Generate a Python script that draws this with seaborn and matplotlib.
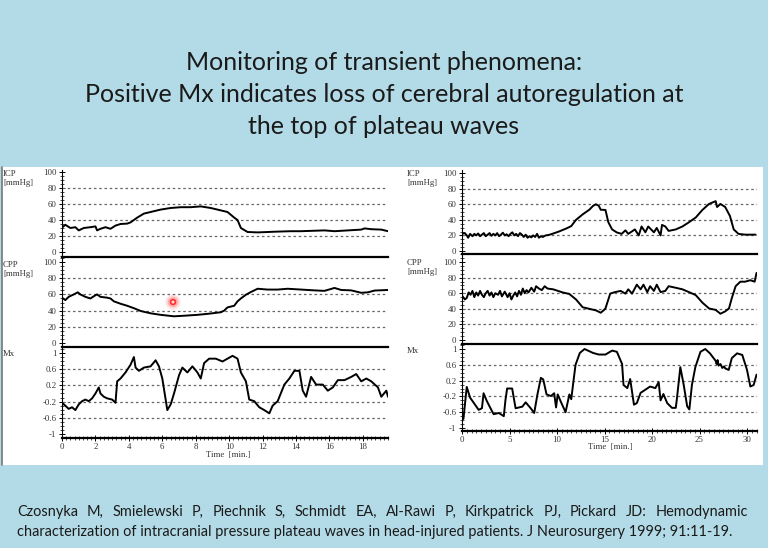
import matplotlib
matplotlib.use("Agg")
import matplotlib.pyplot as plt
from matplotlib.patches import Rectangle
from matplotlib.ticker import MultipleLocator
import seaborn as sns
import pandas as pd

# ---------------- data ----------------
# Left recording (time in minutes)
left_icp_t = [0.0, 0.2, 0.5, 0.8, 1.0, 1.3, 1.7, 2.0, 2.1, 2.3, 2.6, 2.9, 3.2, 3.5, 3.9, 4.1, 4.5, 4.9,
              5.3, 5.9, 6.5, 7.1, 7.7, 8.3, 8.9, 9.3, 9.9, 10.3, 10.5, 10.7, 11.1, 11.7, 12.3, 12.9,
              13.7, 14.3, 15.7, 16.3, 17.1, 17.9, 18.1, 18.5, 19.1, 19.5]
left_icp_v = [30.5, 34, 30, 31, 27, 30, 31, 32, 27, 29, 31, 29, 33, 35, 35.5, 37, 43, 48,
              50, 53, 55, 56, 56, 57, 55, 53, 50, 43, 40, 30, 25, 24.5, 25, 25.5,
              26, 26, 27, 26, 27, 28, 29.5, 28.5, 28, 26]

left_cpp_t = [0.0, 0.2, 0.4, 0.6, 0.8, 0.94, 1.1, 1.4, 1.7, 2.0, 2.1, 2.3, 2.7, 2.9, 3.1, 3.5, 3.9,
              4.3, 4.7, 5.3, 5.9, 6.7, 7.3, 8.1, 8.7, 9.5, 9.7, 9.9, 10.3, 10.5, 10.7, 11.0, 11.3,
              11.7, 12.3, 12.9, 13.5, 14.3, 15.1, 15.7, 16.3, 16.7, 17.3, 17.9, 18.3, 18.7, 19.5]
left_cpp_v = [56, 53, 57, 59, 61, 62.6, 60, 57, 55, 59, 60, 57, 56, 55, 51.5, 48.5, 46,
              43, 39.6, 36.7, 34.8, 33, 33.7, 34.8, 36, 38, 40, 44, 46, 51.5, 55, 59.6, 63,
              67, 66, 66, 67, 66, 65, 64.4, 68, 65.5, 65, 62, 62.6, 64.8, 65.5]

left_mx_t = [0.0, 0.2, 0.4, 0.6, 0.8, 1.0, 1.2, 1.4, 1.6, 1.8, 2.0, 2.2, 2.3, 2.5, 2.7, 3.0, 3.2,
             3.3, 3.5, 3.8, 4.1, 4.3, 4.4, 4.6, 4.9, 5.3, 5.6, 5.8, 6.0, 6.2, 6.3, 6.5, 6.7, 7.0,
             7.2, 7.5, 7.8, 8.1, 8.3, 8.5, 8.8, 9.2, 9.6, 9.9, 10.2, 10.5, 10.7, 11.0, 11.2, 11.5,
             11.8, 12.1, 12.4, 12.6, 12.9, 13.3, 13.6, 13.9, 14.2, 14.4, 14.6, 14.9, 15.2, 15.6,
             15.9, 16.2, 16.5, 16.9, 17.3, 17.6, 17.9, 18.2, 18.5, 18.9, 19.1, 19.4, 19.5]
left_mx_v = [-0.23, -0.30, -0.38, -0.34, -0.41, -0.27, -0.19, -0.15, -0.19, -0.12, 0.0, 0.15, 0.0,
             -0.08, -0.12, -0.15, -0.23, 0.3, 0.37, 0.52, 0.71, 0.9, 0.64, 0.56, 0.64, 0.67, 0.82,
             0.67, 0.37, -0.15, -0.41, -0.27, 0.0, 0.45, 0.64, 0.52, 0.67, 0.52, 0.37, 0.75, 0.86,
             0.86, 0.79, 0.86, 0.93, 0.86, 0.52, 0.3, -0.15, -0.19, -0.34, -0.41, -0.49, -0.30,
             -0.19, 0.22, 0.37, 0.56, 0.56, 0.07, -0.08, 0.41, 0.22, 0.22, 0.07, 0.15, 0.33, 0.33,
             0.41, 0.48, 0.30, 0.37, 0.30, 0.15, -0.08, 0.07, -0.08]

# Right recording
right_icp_t = [0.0, 0.3, 0.5, 0.65, 0.85, 1.1, 1.3, 1.5, 1.7, 1.9, 2.1, 2.3, 2.5, 2.7, 2.9, 3.1,
               3.3, 3.5, 3.7, 3.9, 4.1, 4.3, 4.5, 4.7, 4.9, 5.1, 5.3, 5.5, 5.7, 5.9, 6.1, 6.3,
               6.5, 6.7, 6.9, 7.1, 7.3, 7.5, 7.7, 7.9, 8.1, 8.3, 8.5, 8.8, 9.1, 9.5, 10.2, 11.0,
               11.5, 12.0, 12.7, 13.4, 13.8, 14.1, 14.4, 14.6, 15.1, 15.4, 15.8, 16.3, 16.8,
               17.2, 17.5, 18.2, 18.6, 18.9, 19.3, 19.6, 20.2, 20.5, 20.9, 21.05, 21.4, 21.75,
               22.5, 23.2, 23.9, 24.6, 25.3, 26.0, 26.7, 26.85, 27.2, 27.7, 28.2, 28.6, 29.1,
               29.8, 30.9]
right_icp_v = [22, 23, 20, 17, 22, 19, 22, 20, 22.5, 19, 21, 23, 19, 21, 23, 19.5,
               22, 20, 23, 19, 21, 23.5, 20, 21.5, 19, 22, 24, 20, 22, 19, 23, 21,
               18, 21, 17, 19, 17.5, 20, 18, 22, 17, 19, 18, 20, 20.5, 22, 25, 29,
               32, 40, 47, 53, 58, 60, 58, 53, 52.7, 37, 27.7, 23.8, 22,
               26.5, 22, 27.7, 20, 31.5, 24, 31.5, 24, 29.6, 20, 33.5, 31.5, 25.8,
               27.7, 31.5, 37, 43, 52.7, 60.4, 64, 56.5, 60.4, 56.5, 45, 27.7, 22,
               21, 21]

right_cpp_t = [0.0, 0.3, 0.5, 0.7, 0.9, 1.1, 1.3, 1.5, 1.7, 1.9, 2.1, 2.3, 2.5, 2.7, 2.9, 3.1,
               3.3, 3.5, 3.8, 4.0, 4.2, 4.5, 4.8, 5.0, 5.2, 5.4, 5.6, 5.8, 6.0, 6.2, 6.4, 6.6,
               6.8, 7.0, 7.3, 7.6, 7.8, 8.1, 8.4, 8.7, 9.0, 9.6, 10.6, 11.3, 12.0, 12.7, 13.4,
               14.1, 14.6, 14.9, 15.1, 15.6, 16.1, 16.7, 17.2, 17.5, 17.9, 18.4, 18.8, 19.1,
               19.5, 19.8, 20.2, 20.5, 20.9, 21.4, 21.75, 22.5, 23.2, 23.9, 24.6, 25.3, 26.0,
               26.7, 27.2, 27.7, 28.1, 28.4, 28.8, 29.3, 29.8, 30.35, 30.8, 31.0]
right_cpp_v = [57, 52, 54, 61, 58, 63, 55, 61, 57, 63, 58, 55, 60, 63, 57, 61,
               55, 60, 58, 63, 56, 62, 55, 60, 52, 57, 61, 56, 63, 58, 66, 60,
               64, 61, 67, 62, 69, 66, 64, 69, 66, 65, 61, 59, 52, 42, 40,
               38, 35, 38, 40.5, 59.5, 61.4, 63, 59.5, 65, 59.5, 71, 65, 71,
               61.4, 69, 63, 71, 61.4, 63, 69, 67, 65, 61.4, 57.6, 48, 40.5,
               38.6, 33.7, 36.7, 40.5, 53.8, 69, 74.8, 74.8, 76.7, 74.8, 86]

right_mx_t = [0.0, 0.15, 0.5, 0.85, 1.2, 1.75, 2.1, 2.27, 2.6, 3.0, 3.33, 3.87, 4.4, 4.57, 4.75,
              5.28, 5.64, 6.35, 6.7, 7.23, 7.6, 7.94, 8.3, 8.55, 8.9, 9.36, 9.7, 9.9, 10.07,
              10.43, 10.9, 11.3, 11.5, 11.74, 11.95, 12.4, 12.9, 13.8, 14.4, 15.1, 15.8, 16.3,
              16.85, 17.0, 17.4, 17.7, 18.1, 18.4, 18.8, 19.3, 19.8, 20.35, 20.7, 20.9, 21.2,
              21.6, 22.1, 22.5, 22.6, 22.98, 23.33, 23.7, 23.93, 24.2, 24.56, 25.1, 25.6, 26.1,
              26.7, 26.8, 26.9, 27.0, 27.2, 27.4, 27.6, 27.7, 28.07, 28.4, 28.95, 29.5, 30.0,
              30.35, 30.7, 31.0]
right_mx_v = [-0.77, -0.77, 0.04, -0.23, -0.35, -0.54, -0.5, -0.12, -0.31, -0.5, -0.65, -0.62,
              -0.7, -0.3, 0.0, 0.0, -0.5, -0.46, -0.35, -0.5, -0.62, -0.15, 0.27, 0.23, -0.15,
              -0.19, -0.12, -0.48, -0.15, -0.35, -0.6, -0.15, -0.27, 0.2, 0.6, 0.9, 1.0, 0.9,
              0.86, 0.86, 0.96, 0.93, 0.62, 0.09, 0.01, 0.24, -0.41, -0.37, -0.11, -0.03, 0.05,
              0.01, 0.16, -0.30, -0.14, -0.37, -0.49, -0.49, -0.3, 0.54, 0.1, -0.45, -0.53,
              0.09, 0.54, 0.93, 1.0, 0.89, 0.70, 0.62, 0.72, 0.58, 0.62, 0.52, 0.56, 0.51, 0.47,
              0.77, 0.89, 0.85, 0.47, 0.05, 0.09, 0.35]

# laser-pointer dot visible on the left CPP panel
pointer_t = [6.64]
pointer_v = [50.6]

pressure_ticks = [0, 20, 40, 60, 80, 100]
pressure_grid = [20, 40, 60, 80]
mx_ticks = [-1, -0.6, -0.2, 0.2, 0.6, 1]
mx_tick_labels = ["-1", "-0.6", "-0.2", "0.2", "0.6", "1"]
mx_grid = [-0.6, -0.2, 0.2, 0.6]

title_lines = ["Monitoring of transient phenomena:",
               "Positive Mx indicates loss of cerebral autoregulation at",
               "the top of plateau waves"]
citation_line1 = ("Czosnyka M, Smielewski P, Piechnik S, Schmidt EA, Al-Rawi P, "
                  "Kirkpatrick PJ, Pickard JD: Hemodynamic")
citation_line2 = ("characterization of intracranial pressure plateau waves in head-injured "
                  "patients. J Neurosurgery 1999; 91:11-19.")

# ---------------- figure ----------------
sns.set_theme(style="white")
W, H = 768, 548
BLUE = "#b3dbe7"
fig = plt.figure(figsize=(W / 100, H / 100), dpi=100, facecolor=BLUE)

fig.patches.append(Rectangle((2 / W, 1 - 465 / H), (763 - 2) / W, (465 - 167) / H,
                             transform=fig.transFigure, facecolor="white",
                             edgecolor="none", zorder=-10))
border = plt.Line2D([2 / W, 2 / W], [1 - 465 / H, 1 - 167 / H],
                    transform=fig.transFigure, color="#777777", lw=1.2, zorder=-5)
fig.add_artist(border)

SERIF = "Liberation Serif"
TICK_FS = 6.3
LABEL_COLOR = "#333333"


def add_ax(x0, y0, x1, y1):
    a = fig.add_axes([x0 / W, 1 - y1 / H, (x1 - x0) / W, (y1 - y0) / H])
    a.set_zorder(2)
    return a


def style_ax(ax, xlim, ylim, ticks, labels, grid, ystep, xmajor, xminor, show_x):
    ax.set_facecolor("none")
    ax.set_xlim(*xlim)
    ax.set_ylim(*ylim)
    for s in ["top", "right"]:
        ax.spines[s].set_visible(False)
    ax.spines["left"].set_color("black")
    ax.spines["left"].set_linewidth(0.8)
    ax.spines["bottom"].set_color("black")
    ax.spines["bottom"].set_linewidth(1.6)
    ax.set_yticks(ticks)
    ax.set_yticklabels(labels, fontfamily=SERIF, fontsize=TICK_FS, color=LABEL_COLOR)
    ax.yaxis.set_minor_locator(MultipleLocator(ystep))
    ax.tick_params(axis="y", which="major", direction="inout", length=4, width=0.7,
                   pad=2, left=True, colors="black", labelcolor=LABEL_COLOR)
    ax.tick_params(axis="y", which="minor", direction="inout", length=2.5, width=0.5,
                   left=True, colors="black")
    for g in grid:
        ax.axhline(g, color="#666666", lw=0.9, ls=(0, (2, 2.2)), zorder=1)
    ax.set_xlabel("")
    ax.set_ylabel("")
    if show_x:
        ax.xaxis.set_major_locator(MultipleLocator(xmajor))
        ax.xaxis.set_minor_locator(MultipleLocator(xminor))
        ax.tick_params(axis="x", which="major", direction="inout", length=4, width=0.7,
                       pad=1.5, bottom=True, labelsize=TICK_FS, colors="black",
                       labelcolor=LABEL_COLOR)
        ax.tick_params(axis="x", which="minor", direction="inout", length=2.5, width=0.5,
                       bottom=True, colors="black")
        for lab in ax.get_xticklabels():
            lab.set_fontfamily(SERIF)
    else:
        ax.set_xticks([])


def trace(ax, t, v):
    df = pd.DataFrame({"t": t, "v": v})
    sns.lineplot(data=df, x="t", y="v", ax=ax, color="black", lw=1.4,
                 estimator=None, sort=False, legend=False, zorder=3)


# Left panels
L0, L1 = 62, 388
lxlim = (0, 19.5)
ax = add_ax(L0, 170, L1, 257)
trace(ax, left_icp_t, left_icp_v)
style_ax(ax, lxlim, (-6.25, 102.5), pressure_ticks, [str(v) for v in pressure_ticks],
         pressure_grid, 5, 2, 0.25, False)

ax = add_ax(L0, 257, L1, 347)
trace(ax, left_cpp_t, left_cpp_v)
for s, a in [(120, 0.12), (60, 0.25), (22, 0.9)]:
    ax.scatter(pointer_t, pointer_v, s=s, color="#ff2020", alpha=a, edgecolor="none", zorder=4)
ax.scatter(pointer_t, pointer_v, s=5, color="#ffd0d0", edgecolor="none", zorder=5)
style_ax(ax, lxlim, (-4.9, 106.2), pressure_ticks, [str(v) for v in pressure_ticks],
         pressure_grid, 5, 2, 0.25, False)

ax = add_ax(L0, 347, L1, 438)
trace(ax, left_mx_t, left_mx_v)
style_ax(ax, lxlim, (-1.099, 1.148), mx_ticks, mx_tick_labels, mx_grid, 0.1, 2, 0.25, True)

# Right panels
R0, R1 = 462, 757
rxlim = (0, 31.05)
ax = add_ax(R0, 170, R1, 254)
trace(ax, right_icp_t, right_icp_v)
style_ax(ax, rxlim, (-3.85, 104), pressure_ticks, [str(v) for v in pressure_ticks],
         pressure_grid, 5, 5, 0.5, False)

ax = add_ax(R0, 254, R1, 344)
trace(ax, right_cpp_t, right_cpp_v)
style_ax(ax, rxlim, (-5.1, 110.3), pressure_ticks, [str(v) for v in pressure_ticks],
         pressure_grid, 5, 5, 0.5, False)

ax = add_ax(R0, 344, R1, 431)
trace(ax, right_mx_t, right_mx_v)
style_ax(ax, rxlim, (-1.076, 1.127), mx_ticks, mx_tick_labels, mx_grid, 0.1, 5, 0.5, True)


def ftext(x, y, s, **kw):
    fig.text(x / W, 1 - y / H, s, **kw)


lab_kw = dict(fontfamily=SERIF, fontsize=TICK_FS, color=LABEL_COLOR, va="top", ha="left",
              linespacing=1.1)
ftext(3, 170, "ICP\n[mmHg]", **lab_kw)
ftext(3, 261, "CPP\n[mmHg]", **lab_kw)
ftext(3, 350, "Mx", **lab_kw)
ftext(407, 170, "ICP\n[mmHg]", **lab_kw)
ftext(407, 259, "CPP\n[mmHg]", **lab_kw)
ftext(407, 347, "Mx", **lab_kw)
ftext(228, 455, "Time  [min.]", fontfamily=SERIF, fontsize=TICK_FS, color=LABEL_COLOR,
      ha="center", va="center")
ftext(610, 447, "Time  [min.]", fontfamily=SERIF, fontsize=TICK_FS, color=LABEL_COLOR,
      ha="center", va="center")

# Title
TITLE_FONT = "Lato"
for yy, line in zip([62, 95, 127], title_lines):
    ftext(384, yy, line, fontfamily=TITLE_FONT, fontsize=18, color="#1a1a1a",
          ha="center", va="center")

# Citation (line 1 justified)
CIT_FS = 10.45
renderer = fig.canvas.get_renderer()
words = citation_line1.split(" ")
x_start, x_end = 17, 748
texts = []
widths = []
for w_ in words:
    t = fig.text(0, 0, w_, fontfamily=TITLE_FONT, fontsize=CIT_FS, color="#1a1a1a",
                 ha="left", va="center")
    texts.append(t)
    widths.append(t.get_window_extent(renderer).width)
gap = (x_end - x_start - sum(widths)) / (len(words) - 1)
xc = x_start
for t, wd in zip(texts, widths):
    t.set_position((xc / W, 1 - 512 / H))
    xc += wd + gap
ftext(x_start, 532, citation_line2, fontfamily=TITLE_FONT, fontsize=CIT_FS, color="#1a1a1a",
      ha="left", va="center")

fig.savefig("out.png", dpi=100, facecolor=BLUE)
